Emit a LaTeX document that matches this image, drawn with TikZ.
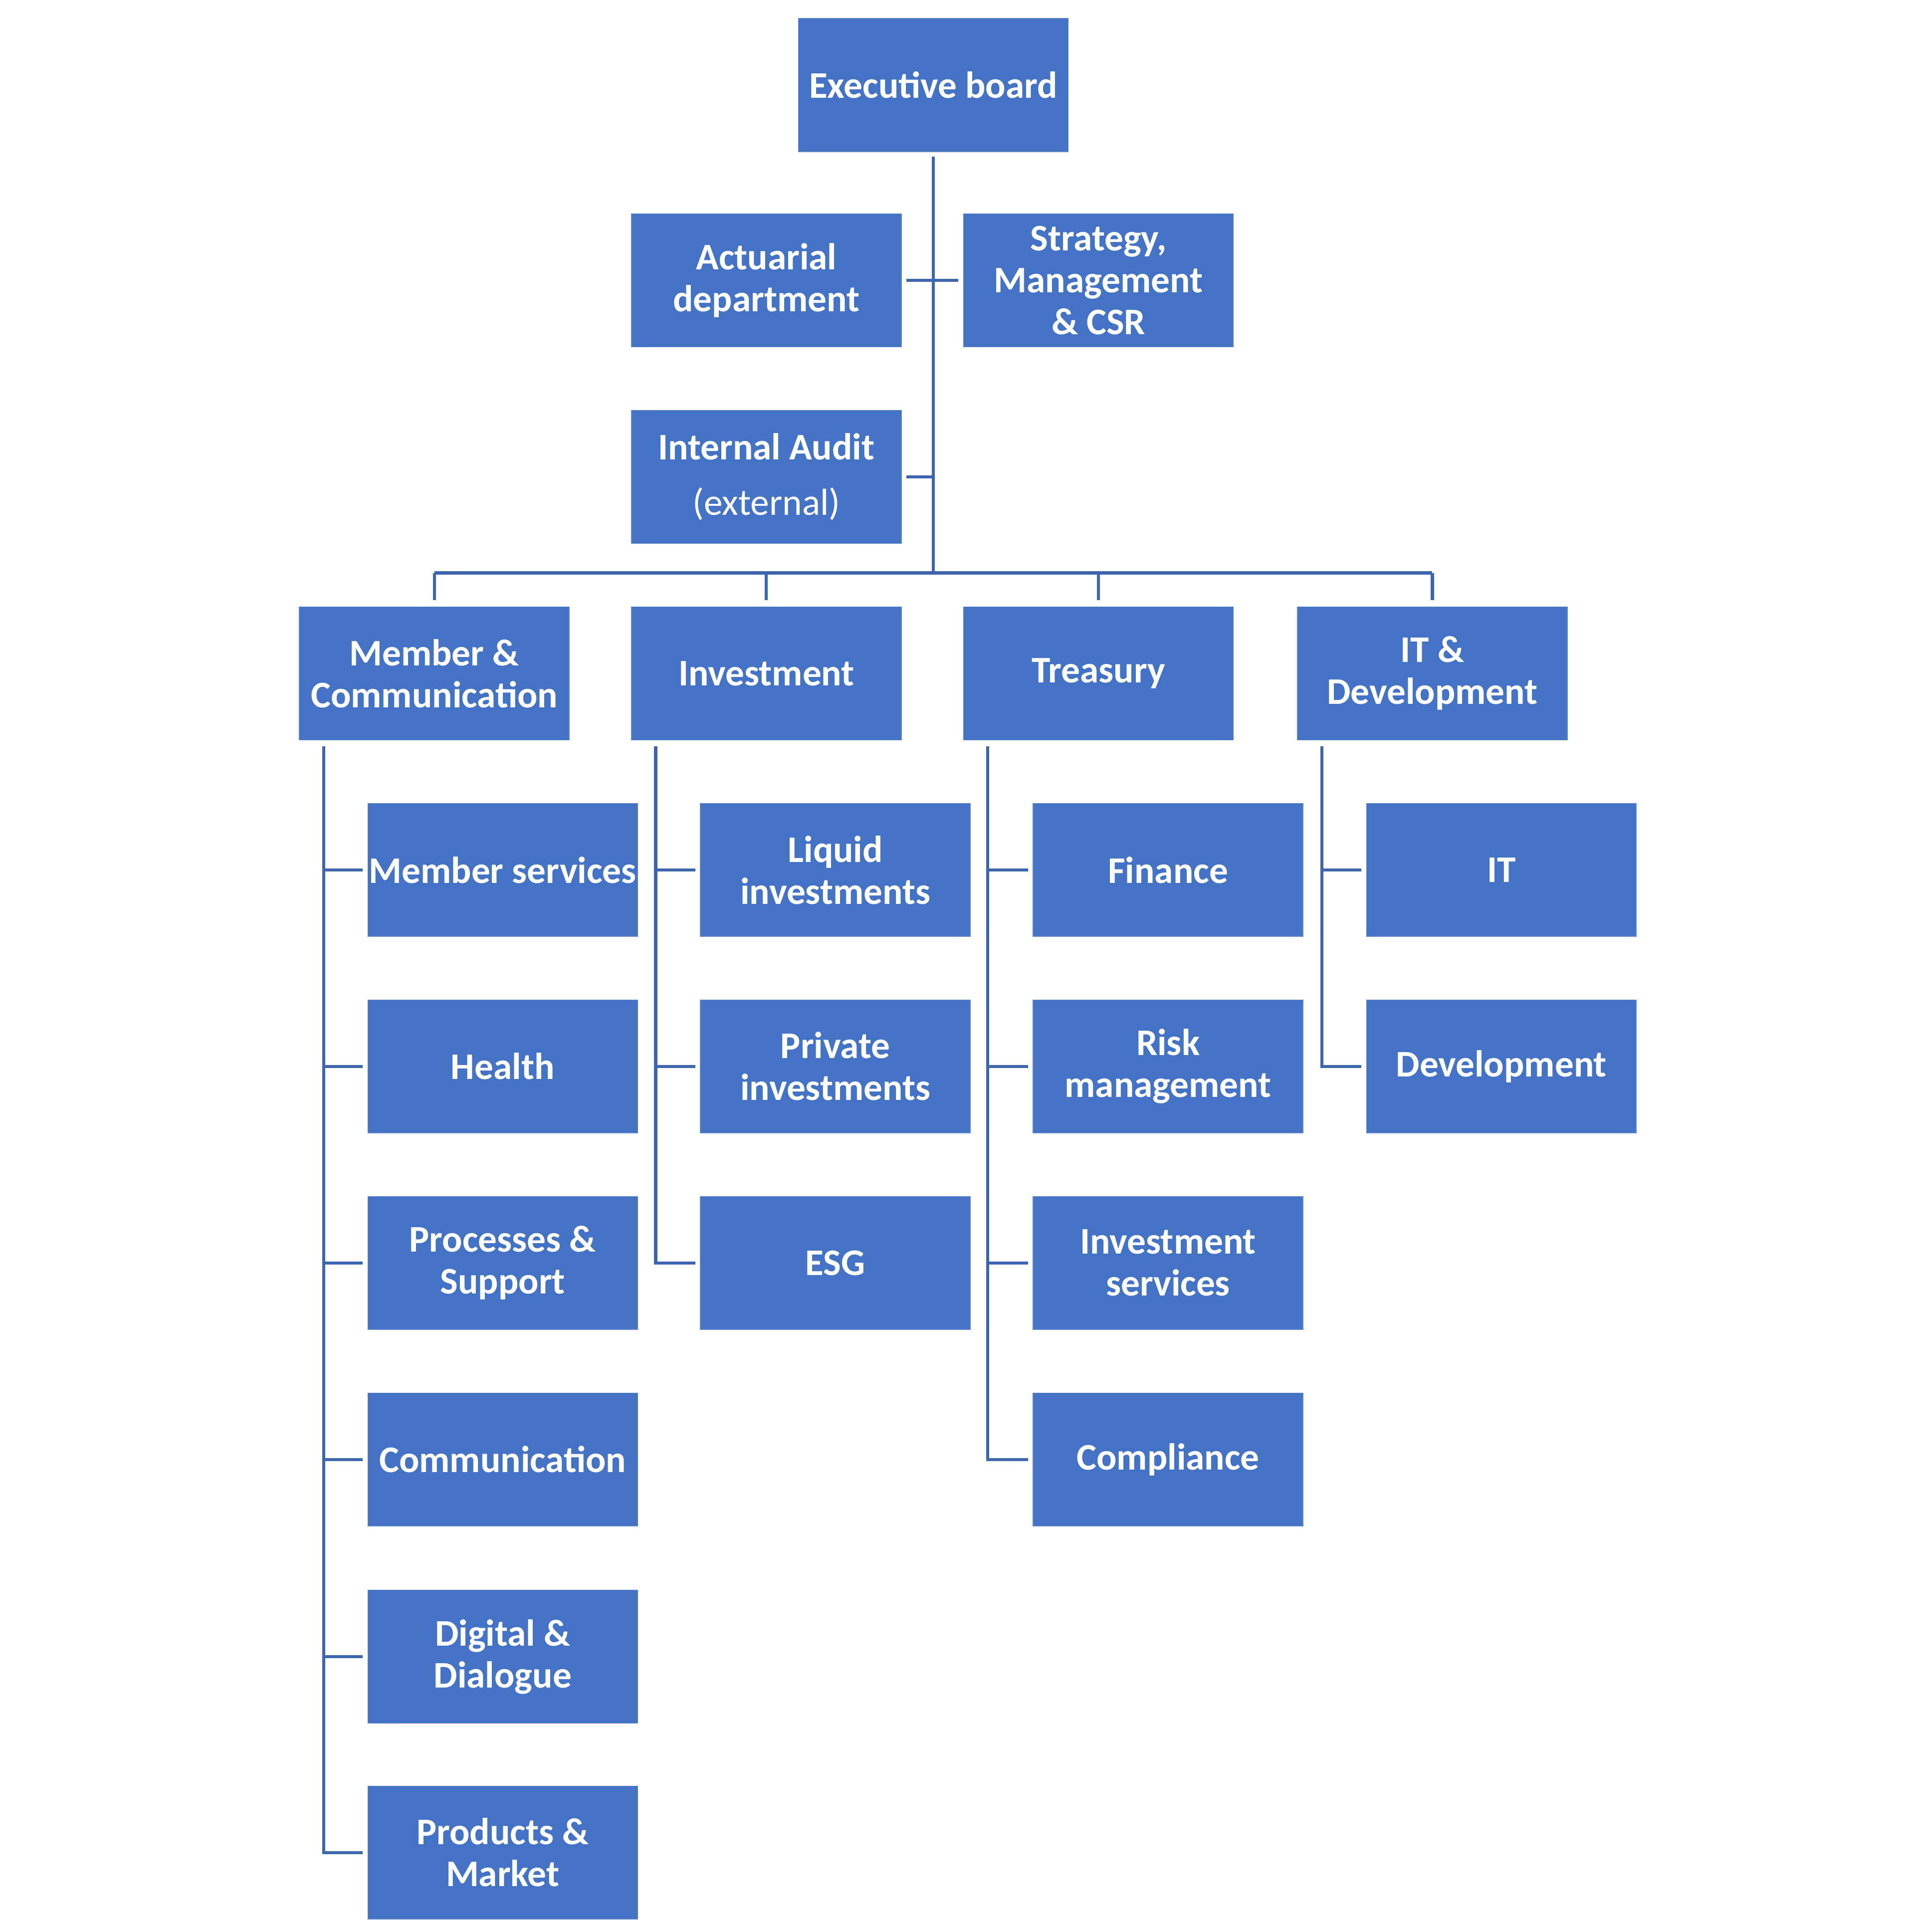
\documentclass[tikz,border=0pt]{standalone}
\usepackage{fontspec}
\setmainfont{Carlito}
\begin{document}
\begin{tikzpicture}[x=1pt,y=-1pt,
  box/.style={rectangle, fill=boxblue, draw=boxblue!85!white, line width=0.6pt,
    minimum width=219pt, minimum height=108pt, inner sep=0pt,
    text=white, align=center, font=\fontsize{30.5}{34}\selectfont\bfseries},
  conn/.style={draw=lineblue, line width=2.5pt},
]
\definecolor{boxblue}{HTML}{4472C4}
\definecolor{lineblue}{HTML}{3D65B0}
\useasboundingbox[fill=white] (0,0) rectangle (1555,1568);

% top
\node[box] (exec) at (757.5,69) {Executive board};
\node[box] (act) at (622,227.5) {Actuarial\\department};
\node[box] (strat) at (891.5,227.5) {Strategy,\\Management\\\& CSR};
\node[box] (audit) at (622,387) {Internal Audit\\[11pt]{\mdseries (external)}};

% level 2
\node[box] (mc) at (352.5,546.5) {Member \&\\Communication};
\node[box] (inv) at (622,546.5) {Investment};
\node[box] (tre) at (891.5,546.5) {Treasury};
\node[box] (itd) at (1162.5,546.5) {IT \&\\Development};

% children: Member & Communication
\node[box] (c11) at (408,706) {Member services};
\node[box] (c12) at (408,865.5) {Health};
\node[box] (c13) at (408,1025) {Processes \&\\Support};
\node[box] (c14) at (408,1184.5) {Communication};
\node[box] (c15) at (408,1344.5) {Digital \&\\Dialogue};
\node[box] (c16) at (408,1503.5) {Products \&\\Market};

% Investment
\node[box] (c21) at (678,706) {Liquid\\investments};
\node[box] (c22) at (678,865.5) {Private\\investments};
\node[box] (c23) at (678,1025) {ESG};

% Treasury
\node[box] (c31) at (948,706) {Finance};
\node[box] (c32) at (948,865.5) {Risk\\management};
\node[box] (c33) at (948,1025) {Investment\\services};
\node[box] (c34) at (948,1184.5) {Compliance};

% IT & Development
\node[box] (c41) at (1218.5,706) {IT};
\node[box] (c42) at (1218.5,865.5) {Development};

% trunk and bus
\coordinate (bus) at (757.5,465);
\draw[conn] ([yshift=-4pt]exec.south) -- (bus);
\draw[conn] (mc.north |- bus) -- (itd.north |- bus);
\foreach \n in {mc,inv,tre,itd}
  \draw[conn] (\n.north |- bus) -- ([yshift=5pt]\n.north);
\draw[conn] ([xshift=4pt]act.east) -- ([xshift=-4pt]strat.west);
\draw[conn] ([xshift=4pt]audit.east) -- (exec.south |- audit.east);

% spines
\coordinate (s1) at ([xshift=20pt,yshift=-5pt]mc.south west);
\coordinate (s2) at ([xshift=20pt,yshift=-5pt]inv.south west);
\coordinate (s3) at ([xshift=20pt,yshift=-5pt]tre.south west);
\coordinate (s4) at ([xshift=20pt,yshift=-5pt]itd.south west);

\draw[conn] (s1) |- ([xshift=-4pt]c16.west);
\foreach \c in {c11,c12,c13,c14,c15}
  \draw[conn] (s1 |- \c.west) -- ([xshift=-4pt]\c.west);
\draw[conn] (s2) |- ([xshift=-4pt]c23.west);
\foreach \c in {c21,c22}
  \draw[conn] (s2 |- \c.west) -- ([xshift=-4pt]\c.west);
\draw[conn] (s3) |- ([xshift=-4pt]c34.west);
\foreach \c in {c31,c32,c33}
  \draw[conn] (s3 |- \c.west) -- ([xshift=-4pt]\c.west);
\draw[conn] (s4) |- ([xshift=-4pt]c42.west);
\draw[conn] (s4 |- c41.west) -- ([xshift=-4pt]c41.west);
\end{tikzpicture}
\end{document}
